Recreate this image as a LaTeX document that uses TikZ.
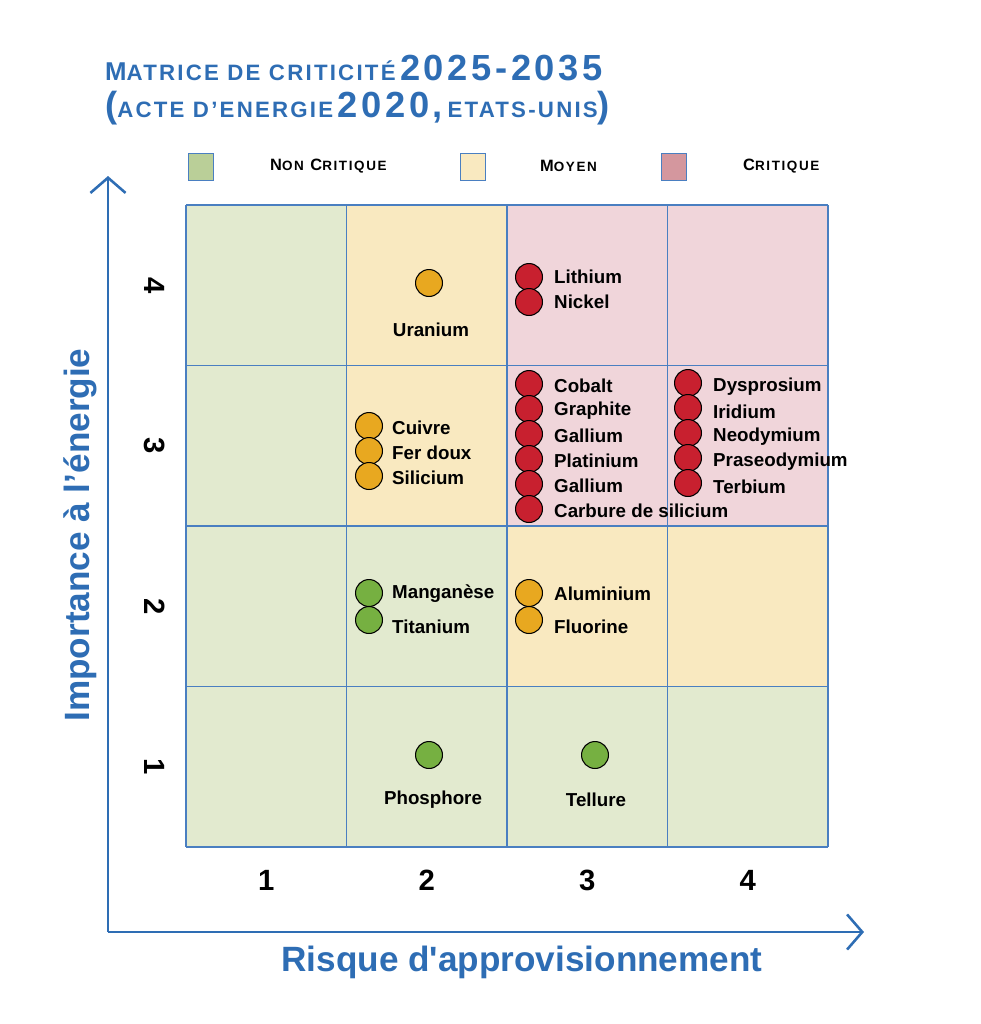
\documentclass[tikz,border=0pt]{standalone}
\usepackage{fontspec}
\setmainfont{Liberation Sans}
\usetikzlibrary{arrows.meta}
\definecolor{titre}{HTML}{2E6DB4}
\definecolor{grille}{HTML}{4A7FC1}
\definecolor{vertc}{HTML}{E2EACF}
\definecolor{jaunec}{HTML}{F9E9C0}
\definecolor{rosec}{HTML}{F0D5DA}
\definecolor{rouge}{HTML}{C8202F}
\definecolor{orange}{HTML}{E8A820}
\definecolor{vert}{HTML}{76B041}
\definecolor{legvert}{HTML}{BACF98}
\definecolor{legrose}{HTML}{D4979E}
\tikzset{
  pt/.style={circle, draw=black, line width=0.9pt, minimum size=23pt, inner sep=0pt},
  nom/.style={anchor=west, font=\fontsize{16}{17}\selectfont\bfseries, inner sep=0pt},
  nomc/.style={anchor=center, font=\fontsize{16}{17}\selectfont\bfseries, inner sep=0pt},
  num/.style={font=\fontsize{25}{26}\selectfont\bfseries},
  leg/.style={anchor=west, font=\fontsize{14}{15}\selectfont\bfseries\addfontfeature{LetterSpace=12}, inner sep=0pt},
  axe/.style={draw=titre, line width=2.2pt, -{Straight Barb[length=13pt,width=30pt,line width=2.2pt]}}
}
\newcommand{\taille}[2]{{\fontsize{#1}{#1}\selectfont #2}}
\begin{document}
\begin{tikzpicture}[x=0.03cm,y=-0.03cm]
	\useasboundingbox (0,0) rectangle (981,1024);
	% titre
	\node [anchor=west, text=titre, font=\bfseries\addfontfeature{LetterSpace=10}, inner sep=0pt] (t1) at (105,68)
	  {\taille{22}{M\taille{19}{ATRICE DE CRITICITÉ}} \taille{31}{2025-2035}};
	\node [anchor=west, text=titre, font=\bfseries\addfontfeature{LetterSpace=10}, inner sep=0pt] (t2) at (105,108)
	  {\taille{31}{(}\taille{19}{ACTE D’ENERGIE} \taille{31}{2020,} \taille{19}{ETATS-UNIS}\taille{31}{)}};
	% legende
	\draw [grille, fill=legvert] (188,153) rectangle (213,180);
	\node [leg] (l1) at (270,166) {N\taille{11.5}{ON} C\taille{11.5}{RITIQUE}};
	\draw [grille, fill=jaunec] (460,153) rectangle (485,180);
	\node [leg] (l2) at (540,166) {M\taille{11.5}{OYEN}};
	\draw [grille, fill=legrose] (661,153) rectangle (686,180);
	\node [leg] (l3) at (743,166) {C\taille{11.5}{RITIQUE}};
	% cases
	\foreach \c/\r/\f in {1/1/vertc,2/1/vertc,3/1/vertc,4/1/vertc,
	                      1/2/vertc,2/2/vertc,3/2/jaunec,4/2/jaunec,
	                      1/3/vertc,2/3/jaunec,3/3/rosec,4/3/rosec,
	                      1/4/vertc,2/4/jaunec,3/4/rosec,4/4/rosec}
	  \fill [\f] ({186+(\c-1)*160.5},{847-\r*160.5}) rectangle ++(160.5,160.5);
	\foreach \i in {0,...,4} {
	  \draw [grille, line width=1.5pt] ({186+\i*160.5},205) -- ({186+\i*160.5},847);
	  \draw [grille, line width=1.5pt] (186,{205+\i*160.5}) -- (828,{205+\i*160.5});
	}
	% numeros
	\foreach \i in {1,...,4} {
	  \node [num] at ({186+(\i-0.5)*160.5},880) {\i};
	  \node [num, rotate=-90] at (155,{847-(\i-0.5)*160.5}) {\i};
	}
	% axes
	\coordinate (o) at (108,932);
	\coordinate (ya) at (108,176);
	\coordinate (xa) at (864,932);
	\draw [axe] (o) -- (ya);
	\draw [axe] (o) -- (xa);
	\node [text=titre, font=\fontsize{30}{31}\selectfont\bfseries] (xl) at (522,962) {Risque d\textquotesingle approvisionnement};
	\node [text=titre, font=\fontsize{30}{31}\selectfont\bfseries, rotate=90] (yl) at (80,535) {Importance à l’énergie};
	% points
	\node [pt, fill=orange] (ura) at (429,283) {};
	\node [nomc] at (431,330) {Uranium};
	\foreach \y/\n in {277/Lithium,302/Nickel}
	  {\node [pt, fill=rouge] (r\y) at (529,\y) {}; \node [nom] at (554,\y) {\n};}
	\foreach \y/\n in {384/Cobalt,409/Graphite,434/Gallium,459/Platinium,484/Gallium,509/Carbure de silicium}
	  {\node [pt, fill=rouge] (c\y) at (529,\y) {}; \node [nom] at (554,{\y+2}) {\n};}
	\foreach \y/\n in {383/Dysprosium,408/Iridium,433/Neodymium,458/Praseodymium,483/Terbium}
	  {\node [pt, fill=rouge] (d\y) at (688,\y) {}; \node [nom] at (713,{\y+4}) {\n};}
	\foreach \y/\n in {426/Cuivre,451/Fer doux,476/Silicium}
	  {\node [pt, fill=orange] (o\y) at (369,\y) {}; \node [nom] at (392,{\y+2}) {\n};}
	\foreach \y/\n/\l in {593/Manganèse/594,620/Titanium/627}
	  {\node [pt, fill=vert] (g\y) at (369,\y) {}; \node [nom] at (392,\l) {\n};}
	\foreach \y/\n/\l in {593/Aluminium/594,620/Fluorine/627}
	  {\node [pt, fill=orange] (a\y) at (529,\y) {}; \node [nom] at (554,\l) {\n};}
	\node [pt, fill=vert] (pho) at (429,755) {};
	\node [nomc] at (433,800) {Phosphore};
	\node [pt, fill=vert] (tel) at (595,755) {};
	\node [nomc] at (596,800) {Tellure};
\end{tikzpicture}
\end{document}
